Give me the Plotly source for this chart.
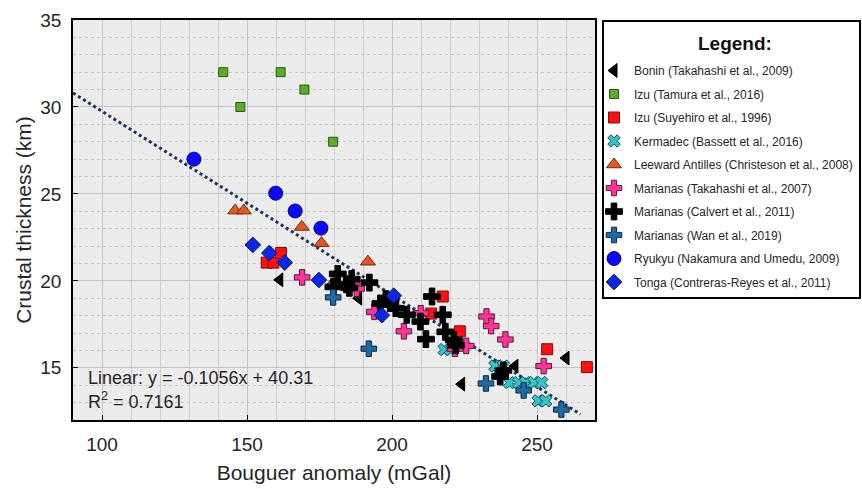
import plotly.graph_objects as go

# ---- data ----
bonin_x = [161.3, 188.5, 224.0, 242.4, 260.0]
bonin_y = [20.06, 19.0, 14.06, 15.1, 15.56]

izu_tamura_x = [141.8, 161.6, 147.7, 169.8, 179.7]
izu_tamura_y = [32.0, 32.0, 30.0, 31.0, 28.0]

izu_suyehiro_x = [156.8, 159.1, 161.7, 213.5, 217.5, 223.4, 253.5, 267.2]
izu_suyehiro_y = [21.05, 21.05, 21.6, 18.12, 19.1, 17.1, 16.07, 15.04]

kermadec_x = [218.0, 220.2, 235.5, 238.4, 240.5, 243.7, 246.1, 248.9, 251.6, 250.4, 253.0]
kermadec_y = [16.05, 16.05, 15.1, 15.1, 14.15, 14.15, 14.15, 14.15, 14.15, 13.1, 13.1]

leeward_x = [145.9, 148.9, 168.9, 175.7, 191.7, 180.2]
leeward_y = [24.04, 24.04, 23.1, 22.17, 21.1, 20.0]

mar_takahashi_x = [169.0, 187.8, 193.9, 204.1, 209.9, 221.7, 225.6, 232.6, 234.2, 239.1, 252.3]
mar_takahashi_y = [20.2, 19.55, 18.22, 17.1, 18.14, 16.1, 16.26, 17.95, 17.4, 16.63, 15.1]

mar_calvert_x = [181.3, 179.8, 184.3, 186.1, 185.3, 192.2, 196.0, 197.9, 199.4, 201.3, 205.1,
                 209.8, 211.7, 213.8, 217.5, 218.4, 221.3, 222.0, 237.3, 238.4]
mar_calvert_y = [20.4, 19.65, 19.8, 20.1, 19.6, 19.9, 18.7, 18.95, 18.72, 18.43, 18.05,
                 17.66, 16.65, 19.1, 18.05, 17.07, 16.6, 16.3, 14.5, 14.85]

mar_wan_x = [179.7, 192.0, 232.4, 245.4, 258.4]
mar_wan_y = [19.05, 16.1, 14.1, 13.7, 12.6]

ryukyu_x = [131.7, 159.9, 166.6, 175.5]
ryukyu_y = [27.0, 25.04, 24.02, 23.03]

tonga_x = [152.0, 157.7, 163.0, 174.8, 196.5, 200.6]
tonga_y = [22.07, 21.6, 21.05, 20.05, 18.03, 19.15]

fit_slope = -0.1056
fit_intercept = 40.31
fit_r2 = 0.7161
fit_x = [90, 265]

x_ticks = [100, 150, 200, 250]
y_ticks = [15, 20, 25, 30, 35]

FONT = "Liberation Sans, Arial, sans-serif"
TXT = "#262626"

fig = go.Figure()

# regression line
fig.add_trace(go.Scatter(
    x=fit_x, y=[fit_slope * v + fit_intercept for v in fit_x],
    mode="lines", line=dict(color="#1c3557", width=3, dash="dot"),
    showlegend=False, hoverinfo="skip"))

series = [
    ("Bonin (Takahashi et al., 2009)", bonin_x, bonin_y, "triangle-left", "#000000", "#000000", 12),
    ("Izu (Tamura et al., 2016)", izu_tamura_x, izu_tamura_y, "square", "#5aad2a", "#2d5a12", 9),
    ("Izu (Suyehiro et al., 1996)", izu_suyehiro_x, izu_suyehiro_y, "square", "#ff1010", "#7a1010", 11),
    ("Kermadec (Bassett et al., 2016)", kermadec_x, kermadec_y, "x", "#33c4cc", "#154a55", 11),
    ("Leeward Antilles (Christeson et al., 2008)", leeward_x, leeward_y, "triangle-up", "#e8561e", "#6a2a10", 13),
    ("Marianas (Takahashi et al., 2007)", mar_takahashi_x, mar_takahashi_y, "cross", "#ff3399", "#5a1a3a", 13),
    ("Marianas (Calvert et al., 2011)", mar_calvert_x, mar_calvert_y, "cross", "#000000", "#000000", 14),
    ("Marianas (Wan et al., 2019)", mar_wan_x, mar_wan_y, "cross", "#1f6aa5", "#0c2a45", 13),
    ("Ryukyu (Nakamura and Umedu, 2009)", ryukyu_x, ryukyu_y, "circle", "#0a0aff", "#0a0a60", 14),
    ("Tonga (Contreras-Reyes et al., 2011)", tonga_x, tonga_y, "diamond", "#0a28e6", "#0a1060", 12),
]

for name, xs, ys, sym, col, lcol, size in series:
    fig.add_trace(go.Scatter(
        x=xs, y=ys, mode="markers", name=name, legendgroup=name,
        marker=dict(symbol=sym, color=col, size=size, line=dict(color=lcol, width=1))))

fig.add_annotation(
    x=0.025, y=0.105, xref="paper", yref="paper", xanchor="left", yanchor="middle",
    text=f"Linear: y = {fit_slope}x + {fit_intercept}", showarrow=False,
    font=dict(family=FONT, size=18, color=TXT))
fig.add_annotation(
    x=0.025, y=0.05, xref="paper", yref="paper", xanchor="left", yanchor="middle",
    text=f"R<sup>2</sup> = {fit_r2}", showarrow=False,
    font=dict(family=FONT, size=18, color=TXT))

# legend frame and heading
fig.add_shape(type="rect", xref="paper", yref="paper",
              x0=1.0153, x1=1.5077, y0=0.305, y1=0.9975,
              line=dict(color="black", width=2), fillcolor="rgba(0,0,0,0)")
fig.add_annotation(
    x=(735 - 73) / 522, y=(420 - 43) / 400, xref="paper", yref="paper",
    xanchor="center", yanchor="middle", showarrow=False,
    text="<b>Legend:</b>", font=dict(family=FONT, size=19, color="#111111"))

fig.update_layout(
    width=862, height=489,
    margin=dict(l=73, r=267, t=20, b=69, autoexpand=False),
    paper_bgcolor="white", plot_bgcolor="#ececec",
    font=dict(family=FONT, color=TXT),
    showlegend=True,
    legend=dict(
        x=(594 - 73) / 522, y=(420 - 56) / 400, xanchor="left", yanchor="top",
        bgcolor="rgba(0,0,0,0)", borderwidth=0,
        font=dict(family=FONT, size=12, color=TXT),
        tracegroupgap=4.5,
    ),
    xaxis=dict(
        range=[90, 270], tickvals=x_ticks, ticks="inside", ticklen=5, tickcolor="black",
        tickfont=dict(size=19, color=TXT), automargin=False, ticklabelstandoff=6,
        showline=True, linecolor="black", linewidth=1.5, mirror=True,
        showgrid=True, gridcolor="#c4c4c4", gridwidth=1, zeroline=False,
        minor=dict(dtick=10, showgrid=True, gridcolor="#cfcfcf", gridwidth=1, ticks=""),
        title=dict(text="Bouguer anomaly (mGal)", font=dict(size=21, color=TXT), standoff=12),
    ),
    yaxis=dict(
        range=[12, 35], tickvals=y_ticks, ticks="inside", ticklen=5, tickcolor="black",
        tickfont=dict(size=19, color=TXT), automargin=False, ticklabelstandoff=6,
        showline=True, linecolor="black", linewidth=1.5, mirror=True,
        showgrid=True, gridcolor="#c4c4c4", gridwidth=1, zeroline=False,
        minor=dict(dtick=1, showgrid=True, gridcolor="#c8c8c8", gridwidth=1, griddash="dot", ticks=""),
        title=dict(text="Crustal thickness (km)", font=dict(size=21, color=TXT), standoff=3),
    ),
)

fig.write_html("out.html", config={"displayModeBar": False},
               post_script="document.body.style.margin='0';")
